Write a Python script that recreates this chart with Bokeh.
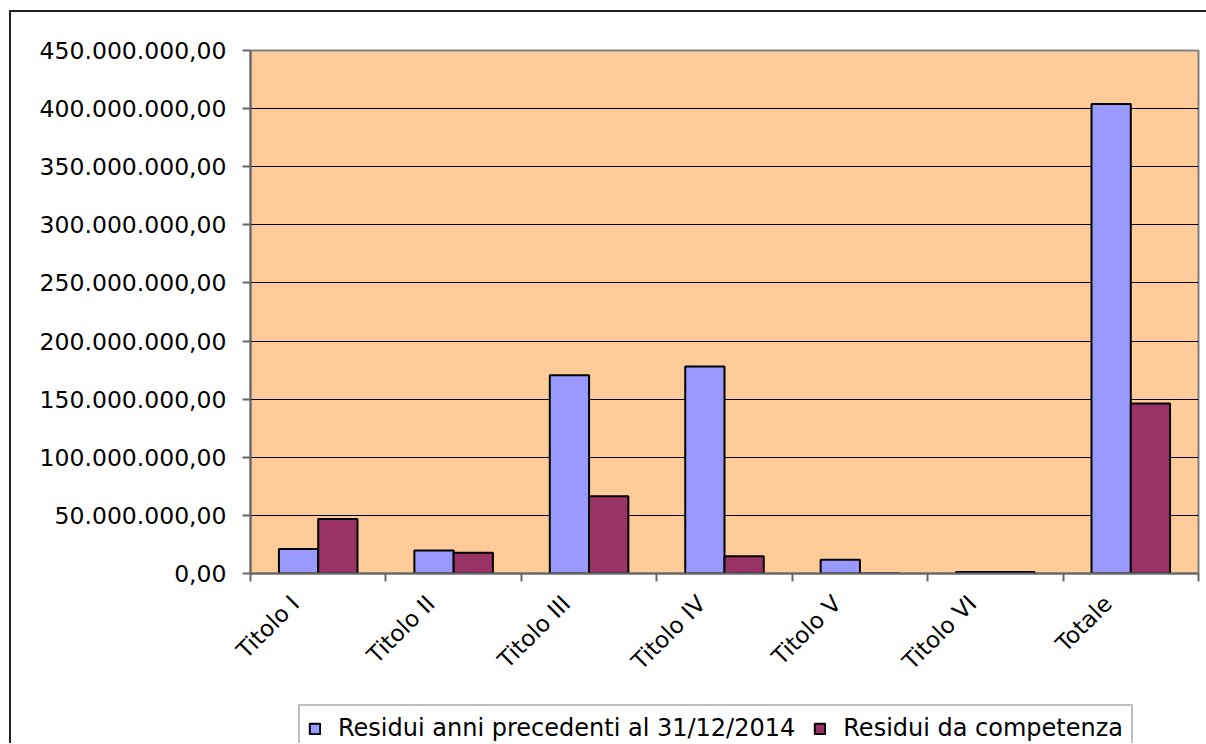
import math
from bokeh.plotting import figure
from bokeh.layouts import column
from bokeh.models import FixedTicker, Range1d, Legend, LegendItem, ColumnDataSource
from bokeh.embed import file_html
from bokeh.resources import INLINE

categories = ["Titolo I", "Titolo II", "Titolo III", "Titolo IV", "Titolo V", "Titolo VI", "Totale"]
residui_precedenti = [21.0e6, 19.8e6, 170.5e6, 178.0e6, 11.8e6, 1.2e6, 404.0e6]
residui_competenza = [47.0e6, 17.8e6, 66.5e6, 14.8e6, 0.0, 1.2e6, 146.3e6]
series_names = ["Residui anni precedenti al 31/12/2014", "Residui da competenza"]
y_ticks = [0, 50e6, 100e6, 150e6, 200e6, 250e6, 300e6, 350e6, 400e6, 450e6]

FONT = "DejaVu Sans"
BLUE = "#9999FF"
MAROON = "#993366"
BG = "#FFCC99"
W = 1195


def fmt_it(v):
    return f"{int(round(v)):,}".replace(",", ".") + ",00"


n = len(categories)
centers = [i + 0.5 for i in range(n)]
label_pos = [c - 0.17 for c in centers]
bw = 0.29

src = ColumnDataSource(data=dict(
    x1=[c - bw / 2 for c in centers],
    x2=[c + bw / 2 for c in centers],
    prec=residui_precedenti,
    comp=residui_competenza,
))

p = figure(width=W, height=678, output_backend="svg", toolbar_location=None,
           x_range=Range1d(0, n), y_range=Range1d(0, 450e6),
           min_border_left=239, min_border_right=8, min_border_top=38, min_border_bottom=117)

p.background_fill_color = BG
p.border_fill_color = "white"
p.outline_line_color = "#808080"
p.outline_line_width = 2

r1 = p.vbar(x="x1", top="prec", width=bw, bottom=0, source=src,
            fill_color=BLUE, line_color="black", line_width=2)
r2 = p.vbar(x="x2", top="comp", width=bw, bottom=0, source=src,
            fill_color=MAROON, line_color="black", line_width=2)

# Y axis
p.yaxis.ticker = FixedTicker(ticks=y_ticks)
p.yaxis.major_label_overrides = {t: fmt_it(t) for t in y_ticks}
p.yaxis.major_label_text_font = FONT
p.yaxis.major_label_text_font_size = "23.5px"
p.yaxis.major_label_text_color = "black"
p.yaxis.axis_line_color = "#666666"
p.yaxis.axis_line_width = 2
p.yaxis.major_tick_line_color = "#666666"
p.yaxis.major_tick_line_width = 2
p.yaxis.major_tick_out = 8
p.yaxis.major_tick_in = 0
p.yaxis.minor_tick_line_color = None
p.yaxis.major_label_standoff = 16

# X axis
p.xaxis.ticker = FixedTicker(ticks=label_pos, minor_ticks=list(range(n + 1)))
p.xaxis.major_label_overrides = {c: lab for c, lab in zip(label_pos, categories)}
p.xaxis.major_label_orientation = math.pi / 4
p.xaxis.major_label_text_font = FONT
p.xaxis.major_label_text_font_size = "23px"
p.xaxis.major_label_text_color = "black"
p.xaxis.major_tick_out = 0
p.xaxis.major_tick_in = 0
p.xaxis.minor_tick_out = 8
p.xaxis.minor_tick_in = 0
p.xaxis.minor_tick_line_color = "#666666"
p.xaxis.minor_tick_line_width = 2
p.xaxis.axis_line_color = "#666666"
p.xaxis.axis_line_width = 2
p.xaxis.major_label_standoff = 18

p.xgrid.grid_line_color = None
p.ygrid.grid_line_color = "black"
p.ygrid.grid_line_width = 1

# Legend strip below the chart (its renderers are hidden; only the legend shows)
q = figure(width=W, height=53, output_backend="svg", toolbar_location=None,
           x_range=Range1d(0, n), y_range=Range1d(-2, -1),
           min_border_left=0, min_border_right=0, min_border_top=0, min_border_bottom=0,
           x_axis_location=None, y_axis_location=None)
q.grid.visible = False
q.outline_line_color = None
q.background_fill_color = "white"
q.border_fill_color = "white"
l1 = q.vbar(x="x1", top="prec", width=bw, bottom=0, source=src,
            fill_color=BLUE, line_color="black", line_width=2)
l2 = q.vbar(x="x2", top="comp", width=bw, bottom=0, source=src,
            fill_color=MAROON, line_color="black", line_width=2)
l1.visible = False
l2.visible = False

legend = Legend(items=[LegendItem(label=series_names[0], renderers=[l1], index=0),
                       LegendItem(label=series_names[1], renderers=[l2], index=0)],
                orientation="horizontal", location=(48, -9), click_policy="none")
legend.label_text_font = FONT
legend.label_text_font_size = "24px"
legend.label_text_color = "black"
legend.glyph_width = 13
legend.glyph_height = 13
legend.label_standoff = 17
legend.spacing = 18
legend.padding = 8
legend.margin = 0
legend.border_line_color = "#808080"
legend.border_line_width = 2
legend.background_fill_color = "white"
legend.background_fill_alpha = 1.0
q.add_layout(legend, "center")

layout = column(p, q, spacing=0,
                styles={"border-left": "2px solid #222222", "border-top": "2px solid #222222",
                        "margin-left": "9px", "margin-top": "10px"})

open("out.html", "w").write(file_html(layout, INLINE))
